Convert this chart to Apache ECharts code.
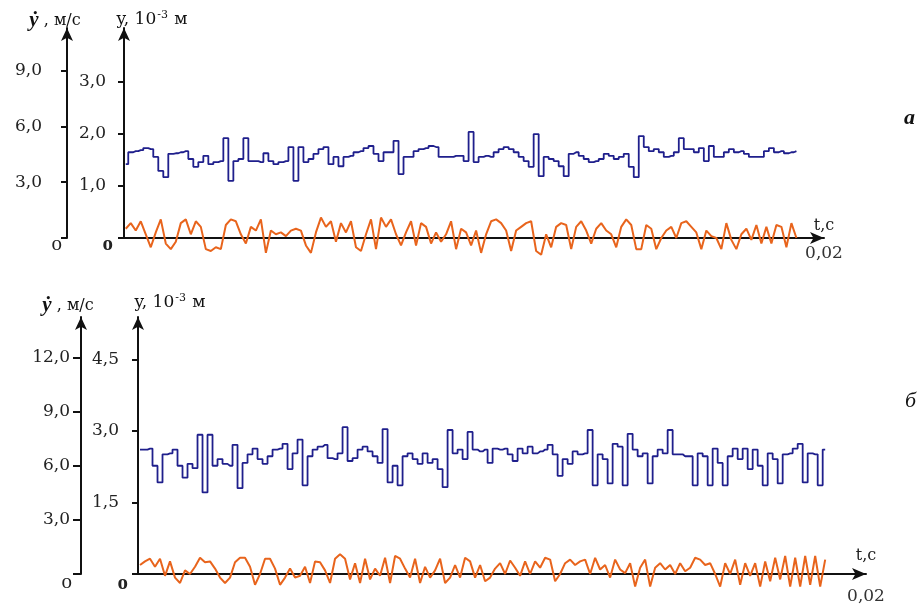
<!DOCTYPE html>
<html>
<head>
<meta charset="utf-8">
<script src="https://cdn.jsdelivr.net/npm/echarts@6/dist/echarts.min.js"></script>
<style>html,body{margin:0;padding:0;background:#fff;}#c{width:920px;height:605px;}</style>
</head>
<body>
<div id="c"></div>
<script>
// ---------- DATA ----------
// Panel "а": time grid (s)
const tStartA = 0.00005;
const tStepA = 0.000143;
// y, 10^-3 m (blue, panel а)
const dispA = [
  1.42,1.65,1.67,1.69,1.73,1.71,1.56,1.29,1.17,1.62,
  1.63,1.65,1.67,1.52,1.37,1.46,1.58,1.42,1.46,1.48,
  1.92,1.10,1.48,1.52,1.92,1.48,1.48,1.46,1.63,1.48,
  1.42,1.46,1.48,1.75,1.10,1.75,1.46,1.52,1.62,1.71,
  1.75,1.42,1.56,1.38,1.56,1.58,1.65,1.67,1.73,1.77,
  1.62,1.48,1.65,1.65,1.87,1.23,1.56,1.56,1.67,1.71,
  1.73,1.77,1.75,1.56,1.56,1.56,1.58,1.58,1.48,2.04,
  1.46,1.56,1.58,1.56,1.65,1.71,1.75,1.71,1.65,1.56,
  1.48,1.37,2.00,1.19,1.56,1.52,1.48,1.38,1.19,1.62,
  1.65,1.58,1.52,1.46,1.48,1.52,1.62,1.58,1.52,1.56,
  1.62,1.37,1.17,1.96,1.75,1.67,1.71,1.65,1.56,1.58,
  1.65,1.92,1.71,1.71,1.65,1.73,1.48,1.77,1.56,1.56,
  1.65,1.71,1.65,1.67,1.62,1.56,1.56,1.56,1.67,1.73,
  1.65,1.67,1.63,1.65,1.67
];
// ẏ, m/s (orange, panel а)
const velA = [
  0.5,0.8,0.4,0.9,0.2,-0.5,0.3,1.0,-0.3,-0.6,
  -0.2,0.8,1.0,0.2,0.9,0.6,-0.6,-0.7,-0.5,-0.6,
  0.7,1.0,0.9,0.2,-0.3,0.6,0.4,1.0,-0.8,0.4,
  0.2,0.3,0.1,0.4,0.5,0.4,-0.4,-0.8,0.3,1.1,
  0.6,0.9,-0.2,0.8,0.3,0.9,-0.5,-0.7,0.2,1.0,
  -0.6,1.1,0.6,1.0,0.2,-0.4,0.3,0.9,-0.4,0.8,
  0.6,-0.3,0.3,-0.2,0.2,0.9,-0.6,0.5,0.3,-0.4,
  0.4,-0.8,0.2,0.9,1.0,0.8,0.4,-0.7,0.4,0.6,
  0.8,0.9,-0.7,-0.9,0.2,-0.5,0.6,0.8,0.7,-0.6,
  0.6,0.9,0.4,-0.3,0.5,0.8,0.4,0.2,-0.5,0.6,
  1.0,0.7,-0.6,-0.6,0.7,0.5,-0.6,0.0,0.4,0.6,
  0.0,0.8,0.9,0.6,0.3,-0.6,0.4,0.1,0.0,-0.6,
  0.8,-0.1,-0.6,0.2,0.5,-0.1,0.7,-0.3,0.6,-0.3,
  0.7,0.6,-0.5,0.8,0.0
];
// Panel "б": time grid (s)
const tStartB = 0.000055;
const tStepB = 0.0001374;
// y, 10^-3 m (blue, panel б)
const dispB = [
  2.61,2.61,2.63,2.27,1.92,2.51,2.53,2.61,2.27,2.02,
  2.31,2.22,2.92,1.71,2.92,2.27,2.41,2.31,2.27,2.71,
  1.80,2.33,2.51,2.63,2.41,2.31,2.47,2.61,2.63,2.73,
  2.20,2.53,2.82,1.86,2.47,2.61,2.67,2.71,2.43,2.41,
  2.53,3.08,2.37,2.43,2.61,2.67,2.57,2.47,2.33,3.04,
  1.92,2.27,1.86,2.47,2.53,2.41,2.31,2.53,2.33,2.41,
  2.20,1.82,3.02,2.53,2.61,2.41,2.98,2.61,2.57,2.61,
  2.33,2.63,2.61,2.63,2.51,2.37,2.63,2.53,2.67,2.53,
  2.57,2.61,2.71,2.51,2.06,2.41,2.31,2.57,2.51,2.53,
  3.02,1.86,2.51,2.41,1.90,2.73,2.67,1.86,2.94,2.61,
  2.47,2.53,1.90,2.47,2.61,2.53,3.02,2.51,2.51,2.47,
  2.47,1.86,2.53,2.47,1.86,2.63,2.33,1.86,2.47,2.63,
  2.41,2.63,2.20,2.61,2.27,1.86,2.53,2.41,1.90,2.51,
  2.53,2.63,2.73,1.92,2.53,2.51,1.86,2.61
];
// ẏ, m/s (orange, panel б)
const velB = [
  0.5,0.7,0.85,0.4,0.85,-0.1,0.7,-0.2,-0.5,0.2,
  0.0,0.4,0.9,0.65,0.7,0.3,-0.2,-0.5,-0.2,0.65,
  0.9,0.9,0.4,-0.6,0.0,0.85,0.85,0.3,-0.6,-0.2,
  0.3,-0.2,-0.1,0.4,-0.5,0.7,0.65,0.2,-0.5,0.85,
  1.1,0.85,-0.3,0.6,-0.5,0.85,-0.3,0.3,-0.1,0.9,
  -0.5,1.0,0.85,0.3,-0.2,0.85,-0.5,0.4,-0.2,0.2,
  0.85,-0.5,-0.2,0.5,-0.2,0.9,0.7,-0.2,0.5,-0.4,
  -0.2,0.3,0.6,0.0,0.75,0.35,-0.1,0.7,0.0,0.7,
  0.35,0.9,0.8,-0.4,0.0,0.6,0.8,0.5,0.7,0.8,
  0.0,0.9,0.25,0.5,-0.2,0.8,0.25,0.05,0.6,-0.7,
  0.35,0.8,-0.7,0.35,0.6,0.25,0.5,0.0,0.6,0.15,
  0.35,0.9,0.8,0.5,0.6,0.0,-0.7,0.6,0.0,0.8,
  -0.6,0.6,-0.1,0.6,-0.7,0.7,-0.4,0.9,-0.3,1.0,
  -0.7,0.9,-0.7,1.0,-0.6,1.0,-0.7,0.8
];
// Tick labels
const ticksVelA = [0, 3, 6, 9];
const ticksDispA = [0, 1, 2, 3];
const ticksVelB = [0, 3, 6, 9, 12];
const ticksDispB = [0, 1.5, 3, 4.5];
const tEnd = 0.02;
const tEndLabel = '0,02';

// ---------- CHART ----------
const SERIF = '"DejaVu Serif", "Liberation Serif", serif';
const TSERIF = '"Liberation Serif", "Times New Roman", serif';
const BLUE = '#1f1f8c';
const ORANGE = '#e8641c';
const AXC = '#111';

function pairs(t0, dt, arr) { return arr.map((v, i) => [t0 + i * dt, v]); }
function fmt(v) { return v.toFixed(1).replace('.', ','); }

function yAxis(o) {
  return {
    type: 'value', gridIndex: o.grid, position: 'left', offset: o.offset,
    min: 0, max: o.max,
    name: o.name, nameLocation: 'end', nameGap: o.nameGap,
    nameTextStyle: { align: 'center', verticalAlign: 'bottom', padding: o.namePad, fontFamily: SERIF, color: AXC, rich: o.nameRich },
    axisLine: { show: true, onZero: false, symbol: ['none', 'arrow'], symbolSize: [9, 13], lineStyle: { color: AXC, width: 2 } },
    axisTick: { show: true, inside: false, length: o.tickLen, customValues: o.ticks, lineStyle: { color: AXC, width: 2 } },
    axisLabel: {
      show: true, customValues: o.ticks, margin: o.margin, fontFamily: SERIF, fontSize: 17, color: '#222',
      formatter: v => v === 0 ? '{o|o}' : '{t|' + fmt(v) + '}',
      rich: {
        o: { fontFamily: TSERIF, fontSize: 21, fontWeight: o.boldZero ? 'bold' : 'normal', color: '#222', padding: [o.oDown, 0, 0, 0] },
        t: { fontFamily: SERIF, fontSize: 17, color: '#222', padding: [0, o.numPad, 0, 0] }
      }
    },
    splitLine: { show: false }
  };
}

const velName = '{d|ẏ}{n| , м/с}';
const velRich = { d: { fontFamily: TSERIF, fontSize: 21, fontWeight: 'bold', fontStyle: 'italic', color: AXC }, n: { fontFamily: SERIF, fontSize: 16, color: AXC } };
const dispName = '{n|y, 10}{s|-3}{n| м}';
const dispRich = { n: { fontFamily: SERIF, fontSize: 17, color: AXC }, s: { fontFamily: SERIF, fontSize: 11, color: AXC, verticalAlign: 'top', padding: [0, 1, 8, 1] } };

function xAxis(grid, labelMargin, namePadBottom) {
  return {
    type: 'value', gridIndex: grid, min: 0, max: tEnd,
    name: 't,c', nameLocation: 'end', nameGap: 0,
    nameTextStyle: { align: 'center', verticalAlign: 'bottom', padding: [0, 0, namePadBottom, 0], fontFamily: SERIF, fontSize: 16, color: '#222' },
    axisLine: { show: true, onZero: false, symbol: ['none', 'arrow'], symbolSize: [9, 14], lineStyle: { color: AXC, width: 2 } },
    axisTick: { show: false },
    axisLabel: { show: true, customValues: [tEnd], margin: labelMargin, fontFamily: SERIF, fontSize: 17, color: '#333', formatter: () => tEndLabel },
    splitLine: { show: false }
  };
}

const option = {
  animation: false,
  backgroundColor: '#fff',
  grid: [
    { left: 124, right: 96, top: 28, bottom: 367 },
    { left: 138, right: 54, top: 317, bottom: 24 }
  ],
  xAxis: [xAxis(0, 7, 4), xAxis(1, 14, 10)],
  yAxis: [
    yAxis({ grid: 0, offset: 57, max: 11.3, ticks: ticksVelA, margin: 5, numPad: 20, oDown: 12, tickLen: 6, name: velName, nameRich: velRich, namePad: [0, 24, 0, 0], nameGap: -3, boldZero: false }),
    yAxis({ grid: 0, offset: 0, max: 4.04, ticks: ticksDispA, margin: 11, numPad: 7, oDown: 14, tickLen: 6, name: dispName, nameRich: dispRich, namePad: [0, 0, 0, 56], nameGap: -1, boldZero: true }),
    yAxis({ grid: 1, offset: 57, max: 14.27, ticks: ticksVelB, margin: 9, numPad: 2, oDown: 17, tickLen: 8, name: velName, nameRich: velRich, namePad: [0, 26, 0, 0], nameGap: 1, boldZero: false }),
    yAxis({ grid: 1, offset: 0, max: 5.39, ticks: ticksDispB, margin: 10, numPad: 9, oDown: 20, tickLen: 6, name: dispName, nameRich: dispRich, namePad: [0, 0, 0, 64], nameGap: 5, boldZero: true })
  ],
  series: [
    { type: 'line', name: 'ẏ а', xAxisIndex: 0, yAxisIndex: 0, data: pairs(tStartA, tStepA, velA), showSymbol: false, clip: false, lineStyle: { color: ORANGE, width: 2 }, z: 2 },
    { type: 'line', name: 'y а', xAxisIndex: 0, yAxisIndex: 1, data: pairs(tStartA, tStepA, dispA), step: 'middle', showSymbol: false, clip: false, lineStyle: { color: BLUE, width: 1.8 }, z: 3 },
    { type: 'line', name: 'ẏ б', xAxisIndex: 1, yAxisIndex: 2, data: pairs(tStartB, tStepB, velB), showSymbol: false, clip: false, lineStyle: { color: ORANGE, width: 2 }, z: 2 },
    { type: 'line', name: 'y б', xAxisIndex: 1, yAxisIndex: 3, data: pairs(tStartB, tStepB, dispB), step: 'middle', showSymbol: false, clip: false, lineStyle: { color: BLUE, width: 1.8 }, z: 3 }
  ],
  graphic: [
    { type: 'text', left: 904, top: 107, style: { text: 'а', font: 'italic bold 22px "Liberation Serif"', fill: '#111' } },
    { type: 'text', left: 905, top: 390, style: { text: 'б', font: 'italic 22px "Liberation Serif"', fill: '#111' } }
  ]
};

const chart = echarts.init(document.getElementById('c'), null, { renderer: 'canvas' });
chart.setOption(option);
</script>
</body>
</html>
